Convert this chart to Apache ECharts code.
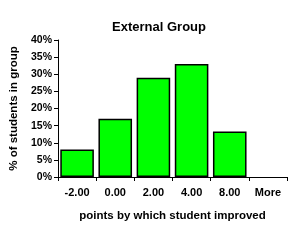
<!DOCTYPE html>
<html><head><meta charset="utf-8">
<script src="https://cdn.jsdelivr.net/npm/echarts@6/dist/echarts.min.js"></script>
<style>html,body{margin:0;padding:0;background:#fff}#c{width:307px;height:240px}</style>
</head><body><div id="c"></div>
<script>
const categories = ['-2.00', '0.00', '2.00', '4.00', '8.00', 'More'];
const values = [0.08, 0.17, 0.29, 0.33, 0.133, 0];
const yTicks = { min: 0, max: 0.4, interval: 0.05 };
const titleText = 'External Group';
const xName = 'points by which student improved';
const yName = '% of students in group';

const F = '"Liberation Sans", Arial, sans-serif';
const chart = echarts.init(document.getElementById('c'), null, { renderer: 'canvas' });
chart.setOption({
  animation: false,
  backgroundColor: '#fff',
  title: { text: titleText, left: 154, top: 16, textAlign: 'center',
    textStyle: { fontFamily: F, fontWeight: 'bold', fontSize: 13, color: '#000' } },
  grid: { left: 58, right: 20, top: 40, bottom: 63 },
  xAxis: {
    type: 'category', data: categories,
    name: xName, nameLocation: 'middle', nameGap: 33,
    nameTextStyle: { fontFamily: F, fontWeight: 'bold', fontSize: 11.5, color: '#000' },
    axisLine: { lineStyle: { color: '#000', width: 1 } },
    axisTick: { show: true, length: 4, lineStyle: { color: '#000' } },
    axisLabel: { fontFamily: F, fontWeight: 'bold', fontSize: 11, color: '#000', margin: 10 },
    splitLine: { show: false }
  },
  yAxis: {
    type: 'value', min: yTicks.min, max: yTicks.max, interval: yTicks.interval,
    name: yName, nameLocation: 'middle', nameGap: 30, nameRotate: 90,
    nameTextStyle: { fontFamily: F, fontWeight: 'bold', fontSize: 11.5, color: '#000' },
    axisLine: { show: true, lineStyle: { color: '#000', width: 1 } },
    axisTick: { show: true, length: 4, lineStyle: { color: '#000' } },
    axisLabel: { fontFamily: F, fontWeight: 'bold', fontSize: 10.5, color: '#000', margin: 6,
      formatter: v => Math.round(v * 100) + '%' },
    splitLine: { show: false }
  },
  series: [{
    type: 'bar', barCategoryGap: '12%',
    data: values.map(v => v === 0 ? { value: v, itemStyle: { borderWidth: 0 } } : v),
    itemStyle: { color: '#00ff00', borderColor: '#000', borderWidth: 1.5 }
  }]
});
</script></body></html>
